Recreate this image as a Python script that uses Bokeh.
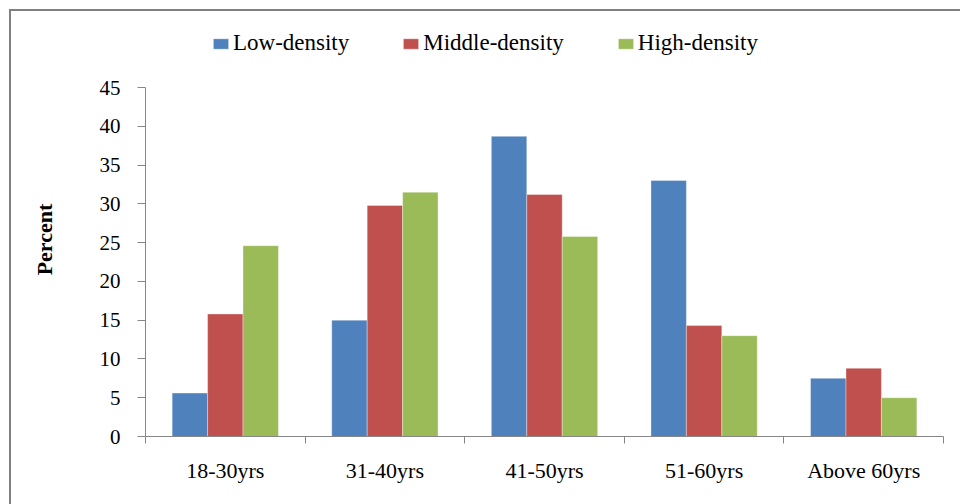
from bokeh.plotting import figure
from bokeh.models import (ColumnDataSource, FixedTicker, Legend, LegendItem,
                          Range1d, InlineStyleSheet)
from bokeh.transform import dodge
from bokeh.embed import file_html
from bokeh.resources import INLINE

# Age groups and percentage of respondents per settlement density
age_groups = ["18-30yrs", "31-40yrs", "41-50yrs", "51-60yrs", "Above 60yrs"]
low_density = [5.6, 15.0, 38.7, 33.0, 7.5]
middle_density = [15.8, 29.8, 31.2, 14.3, 8.8]
high_density = [24.6, 31.5, 25.8, 13.0, 5.0]
y_ticks = [0, 5, 10, 15, 20, 25, 30, 35, 40, 45]

series_names = ["Low-density", "Middle-density", "High-density"]
colors = ["#4F81BD", "#C0504D", "#9BBB59"]

FONT = "Liberation Serif"
AXIS_GRAY = "#868686"

# page layout (pixels): frame spans top..bottom, value axis tops out at y_axis_top
W, H = 960, 504
frame_top, frame_bottom, y_axis_top = 20, 436, 87
y_max = y_ticks[-1]
y_end = y_max * (frame_bottom - frame_top) / (frame_bottom - y_axis_top)

centers = [i + 0.5 for i in range(len(age_groups))]
source = ColumnDataSource(dict(
    x=centers,
    low=low_density,
    middle=middle_density,
    high=high_density,
))

# thin grey chart-area border along the top and left edges
border_css = InlineStyleSheet(css="""
:host::after {
  content: "";
  position: absolute;
  left: 9px;
  top: 9px;
  width: 951px;
  height: 495px;
  box-sizing: border-box;
  border-left: 2px solid #808080;
  border-top: 2px solid #808080;
  pointer-events: none;
}
""")

p = figure(width=W, height=H, output_backend="svg", toolbar_location=None,
           x_range=Range1d(0, len(age_groups)), y_range=Range1d(0, y_end),
           min_border_left=145, min_border_right=17,
           min_border_top=frame_top, min_border_bottom=H - frame_bottom,
           stylesheets=[border_css])
p.outline_line_color = None
p.grid.visible = False
p.background_fill_color = "white"
p.border_fill_color = "white"

bar_w = 0.222
renderers = []
for col, off, color in zip(["low", "middle", "high"], [-bar_w, 0, bar_w], colors):
    r = p.vbar(x=dodge("x", off), top=col, bottom=0, width=bar_w, source=source,
               fill_color=color, line_color="white", line_alpha=0.35, line_width=1)
    renderers.append(r)

# x axis: labels at group centres, tick marks at group boundaries
xa = p.xaxis[0]
xa.ticker = FixedTicker(ticks=centers, minor_ticks=list(range(len(age_groups) + 1)))
xa.major_label_overrides = {c: g for c, g in zip(centers, age_groups)}
xa.major_tick_out = 0
xa.major_tick_in = 0
xa.minor_tick_out = 7
xa.minor_tick_in = 0
xa.minor_tick_line_color = AXIS_GRAY
xa.axis_line_color = AXIS_GRAY
xa.major_label_text_font = FONT
xa.major_label_text_font_size = "22px"
xa.major_label_text_color = "black"
xa.major_label_standoff = 14

ya = p.yaxis[0]
ya.ticker = FixedTicker(ticks=y_ticks)
ya.bounds = (0, y_max)
ya.major_tick_out = 8
ya.major_tick_in = 0
ya.minor_tick_out = 0
ya.minor_tick_in = 0
ya.major_tick_line_color = AXIS_GRAY
ya.axis_line_color = AXIS_GRAY
ya.major_label_text_font = FONT
ya.major_label_text_font_size = "21px"
ya.major_label_text_color = "black"
ya.major_label_standoff = 17
# trailing no-break spaces centre the title on the 0-45 span rather than the frame
ya.axis_label = "Percent" + "\u00a0" * 4
ya.axis_label_text_font = FONT
ya.axis_label_text_font_style = "bold"
ya.axis_label_text_font_size = "22px"
ya.axis_label_text_color = "black"
ya.axis_label_standoff = 40

legend = Legend(
    items=[LegendItem(label=n, renderers=[r]) for n, r in zip(series_names, renderers)],
    orientation="horizontal", location=(66, frame_bottom - 56),
    glyph_width=19, glyph_height=13, label_standoff=3, spacing=52,
    padding=0, margin=0, border_line_color=None, background_fill_alpha=0,
    label_text_font=FONT, label_text_font_size="23px", label_text_color="black",
)
p.add_layout(legend, "center")

open("out.html", "w").write(file_html(p, INLINE))
